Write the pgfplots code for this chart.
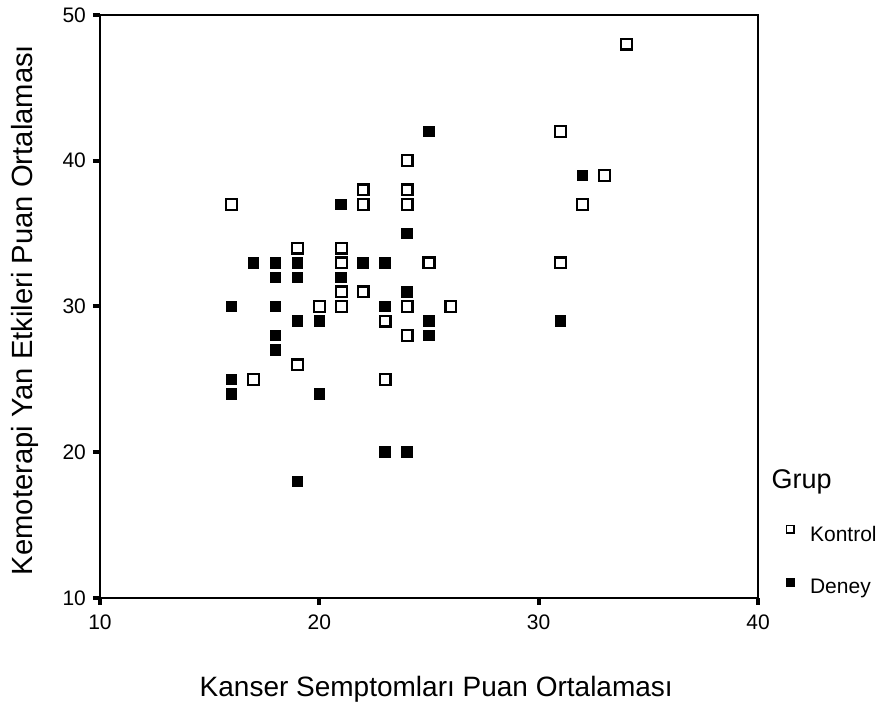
\documentclass[border=0pt]{standalone}
\usepackage{fontspec}
\setmainfont{Liberation Sans}
\usepackage{pgfplots}
\pgfplotsset{compat=1.18}

\begin{document}
\begin{tikzpicture}
\begin{axis}[
    at={(0,0)}, anchor=south west,
    scale only axis, width=329pt, height=291.5pt,
    xmin=10, xmax=40, ymin=10, ymax=50,
    xtick={10,20,30,40}, ytick={10,20,30,40,50},
    xtick pos=bottom, ytick pos=left,
    tick align=outside, major tick length=3.5pt,
    tick style={line width=2pt, black},
    axis line style={line width=1pt},
    /pgf/number format/assume math mode=true,
    ticklabel style={font=\fontsize{10.5}{12}\selectfont},
    xticklabel style={yshift=-1.5pt},
    xlabel={Kanser Semptomları Puan Ortalaması},
    ylabel={Kemoterapi Yan Etkileri Puan Ortalaması},
    xlabel style={font=\fontsize{14}{16}\selectfont,
        at={(axis description cs:0.511,-0.156)}, anchor=center},
    ylabel style={font=\fontsize{14.6}{16}\selectfont,
        at={(axis description cs:-0.114,0.494)}, anchor=center},
    clip=false,
    legend style={at={(axis cs:41.28,15.0)}, anchor=north west, draw=none, fill=none,
        inner sep=0pt, nodes={inner sep=0pt},
        font=\fontsize{10.5}{12}\selectfont, row sep=17pt,
        /tikz/every odd column/.append style={column sep=8pt}},
    legend cell align=left,
    legend image code/.code={\draw[#1] plot coordinates {(0pt,3pt)};},
]
% Kontrol
\addplot[only marks, mark=square*, mark size=2.7pt,
    mark options={fill=white, draw=black, line width=1.15pt, rounded corners=0.8pt}, forget plot]
  coordinates {
    (16,37) (34,48) (31,42) (33,39) (32,37) (31,33) (24,40) (22,38) (24,38)
    (22,37) (24,37) (19,34) (21,34) (21,33) (25,33) (21,31) (22,31) (20,30)
    (21,30) (24,30) (26,30) (23,29) (24,28) (19,26) (17,25) (23,25)
  };
% Deney
\addplot[only marks, mark=square*, mark size=2.6pt,
    mark options={fill=black, draw=black, line width=0.6pt, rounded corners=0.8pt}, forget plot]
  coordinates {
    (32,39) (31,29) (25,42) (21,37) (24,35) (17,33) (18,33) (19,33) (22,33)
    (23,33) (18,32) (19,32) (21,32) (24,31) (16,30) (18,30) (23,30) (19,29)
    (20,29) (25,29) (18,28) (25,28) (18,27) (16,25) (16,24) (20,24) (23,20)
    (24,20) (19,18)
  };
\addlegendimage{only marks, mark=square*, mark size=1.9pt,
    mark options={fill=white, draw=black, line width=0.8pt, rounded corners=0.5pt}}
\addlegendentry{Kontrol}
\addlegendimage{only marks, mark=square*, mark size=1.9pt,
    mark options={fill=black, draw=black, rounded corners=0.5pt}}
\addlegendentry{Deney}
\node[anchor=west, inner sep=0pt, font=\fontsize{13.5}{15}\selectfont]
    at (axis cs:40.6,17.95) {Grup};
\end{axis}
\pgfresetboundingbox
\path[use as bounding box] (-50pt,-53.5pt) rectangle (391.5pt,299pt);
\end{tikzpicture}
\end{document}
